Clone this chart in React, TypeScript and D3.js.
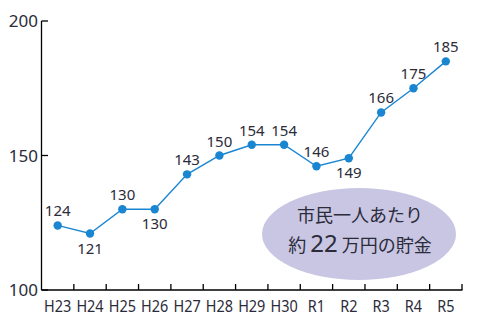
import React from "react";
import * as d3 from "d3";

const categories = ["H23", "H24", "H25", "H26", "H27", "H28", "H29", "H30", "R1", "R2", "R3", "R4", "R5"];
const values = [124, 121, 130, 130, 143, 150, 154, 154, 146, 149, 166, 175, 185];
const labelBelow = [false, true, false, true, false, false, false, false, false, true, false, false, false];
const yTicks = [100, 150, 200];

export default function App() {
  const W = 492, H = 319;
  const x = d3.scaleBand<string>().domain(categories).range([41.5, 462]).paddingInner(0).paddingOuter(0);
  const y = d3.scaleLinear().domain([100, 200]).range([290, 21]);
  const cx = (c: string) => (x(c) as number) + x.bandwidth() / 2;
  const line = d3.line<number>().x((_, i) => cx(categories[i])).y((v) => y(v));
  const font = "'Noto Sans', 'Open Sans', sans-serif";
  const textColor = "#2b2b3a";
  const boundaries = categories.map((c) => (x(c) as number) + x.bandwidth());
  return (
    <svg width={W} height={H} style={{ position: "absolute", left: 0, top: 0, background: "#fff" }}>
      <ellipse cx={359} cy={234} rx={97} ry={46} fill="#c8c6e2" />
      <text x={360} y={222} textAnchor="middle" fontFamily="'Noto Sans CJK JP', sans-serif" fontSize={18} fill={textColor}>
        市民一人あたり
      </text>
      <text x={360} y={252} textAnchor="middle" fontFamily="'Noto Sans CJK JP', sans-serif" fontSize={18} fill={textColor}>
        約<tspan fontSize={24} fontFamily={font} dx={4}>22</tspan><tspan dx={4}>万円の貯金</tspan>
      </text>
      {/* axes */}
      <line x1={41.5} x2={41.5} y1={21} y2={290} stroke="#000" strokeWidth={1.3} />
      <line x1={41.5} x2={462.5} y1={290} y2={290} stroke="#000" strokeWidth={1.3} />
      {yTicks.map((t) => (
        <g key={t}>
          <line x1={41.5} x2={48} y1={y(t)} y2={y(t)} stroke="#000" strokeWidth={1.3} />
          <text x={38} y={y(t) + 6} textAnchor="end" fontFamily={font} fontSize={17} fill={textColor}>
            {t}
          </text>
        </g>
      ))}
      {boundaries.map((b, i) => (
        <line key={i} x1={b} x2={b} y1={284} y2={290} stroke="#000" strokeWidth={1.3} />
      ))}
      {categories.map((c) => (
        <text key={c} x={cx(c)} y={312} textAnchor="middle" fontFamily={font} fontSize={17} fill={textColor}
          transform={`translate(${cx(c)},0) scale(0.85,1) translate(${-cx(c)},0)`}>
          {c}
        </text>
      ))}
      <path d={line(values) || ""} fill="none" stroke="#1a86d2" strokeWidth={1.4} />
      {values.map((v, i) => (
        <circle key={i} cx={cx(categories[i])} cy={y(v)} r={4.2} fill="#1a86d2" />
      ))}
      {values.map((v, i) => (
        <text key={i} x={cx(categories[i])} y={labelBelow[i] ? y(v) + 20 : y(v) - 9} textAnchor="middle"
          fontFamily={font} fontSize={15} fill={textColor}>
          {v}
        </text>
      ))}
    </svg>
  );
}
